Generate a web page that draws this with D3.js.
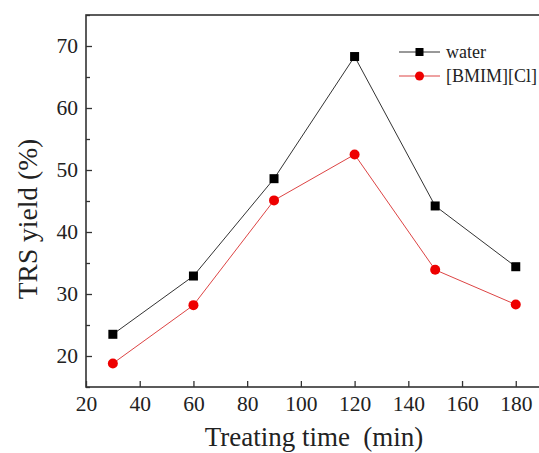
<!DOCTYPE html>
<html><head><meta charset="utf-8">
<script src="https://cdn.jsdelivr.net/npm/d3@7"></script>
<style>body{margin:0;background:#fff}svg{display:block} text{font-family:"Liberation Serif","DejaVu Serif",serif !important;}</style>
</head><body>
<script>
const times = [30, 60, 90, 120, 150, 180];
const water = [23.5, 32.9, 48.6, 68.3, 44.2, 34.4];
const bmim = [18.8, 28.2, 45.1, 52.5, 33.9, 28.3];
const xTicks = [20, 40, 60, 80, 100, 120, 140, 160, 180];
const yTicks = [20, 30, 40, 50, 60, 70];
const yMinor = [15, 25, 35, 45, 55, 65, 75];

const W = 539, H = 453;
const m = {l: 86, t: 15, b: 387};
const svg = d3.select("body").append("svg").attr("width", W).attr("height", H);
const x = d3.scaleLinear().domain([20, 190]).range([m.l, m.l + 170 * 2.686]);
const y = d3.scaleLinear().domain([15, 75]).range([m.b, m.t]);

// frame
svg.append("rect").attr("x", x(20)).attr("y", y(75)).attr("width", x(190) - x(20)).attr("height", y(15) - y(75))
  .attr("fill", "none").attr("stroke", "#333").attr("stroke-width", 1.6);

const xa = svg.append("g").attr("transform", `translate(0,${m.b})`)
  .call(d3.axisBottom(x).tickValues(xTicks).tickSize(-6).tickPadding(9).tickFormat(d3.format("d")));
const ya = svg.append("g").attr("transform", `translate(${m.l},0)`)
  .call(d3.axisLeft(y).tickValues(yTicks).tickSize(-6).tickPadding(8).tickFormat(d3.format("d")));
svg.append("g").attr("transform", `translate(${m.l},0)`)
  .call(d3.axisLeft(y).tickValues(yMinor).tickSize(-4).tickFormat(""))
  .call(g => g.select(".domain").remove());
[xa, ya].forEach(g => {
  g.select(".domain").remove();
  g.selectAll("text").attr("font-size", 21.5).attr("fill", "#222");
});
svg.selectAll(".tick line").attr("stroke", "#333").attr("stroke-width", 1.3);

const line = d3.line().x((d, i) => x(times[i])).y(d => y(d));
svg.append("path").datum(water).attr("d", line).attr("fill", "none").attr("stroke", "#333").attr("stroke-width", 1);
svg.append("path").datum(bmim).attr("d", line).attr("fill", "none").attr("stroke", "#d44").attr("stroke-width", 1);
svg.selectAll(".sq").data(water).enter().append("rect")
  .attr("x", (d, i) => x(times[i]) - 4.5).attr("y", d => y(d) - 4.5).attr("width", 9).attr("height", 9).attr("fill", "#000");
svg.selectAll(".ci").data(bmim).enter().append("circle")
  .attr("cx", (d, i) => x(times[i])).attr("cy", d => y(d)).attr("r", 5).attr("fill", "#e00");

// legend
const lg = svg.append("g");
lg.append("line").attr("x1", 399).attr("x2", 440).attr("y1", 52).attr("y2", 52).attr("stroke", "#333");
lg.append("rect").attr("x", 415.5).attr("y", 48).attr("width", 8).attr("height", 8).attr("fill", "#000");
lg.append("text").attr("x", 446).attr("y", 58).attr("font-size", 18).attr("fill", "#222").text("water");
lg.append("line").attr("x1", 399).attr("x2", 440).attr("y1", 76).attr("y2", 76).attr("stroke", "#d44");
lg.append("circle").attr("cx", 419.5).attr("cy", 76).attr("r", 4.5).attr("fill", "#e00");
lg.append("text").attr("x", 446).attr("y", 82).attr("font-size", 18).attr("fill", "#222").text("[BMIM][Cl]");

svg.append("text").attr("x", 314).attr("y", 446).attr("text-anchor", "middle")
  .attr("font-size", 27).attr("fill", "#222").attr("xml:space", "preserve").text("Treating time  (min)");
svg.append("text").attr("transform", `translate(37,219) rotate(-90)`).attr("text-anchor", "middle")
  .attr("font-size", 27.5).attr("fill", "#222").text("TRS yield (%)");
</script>
</body></html>
